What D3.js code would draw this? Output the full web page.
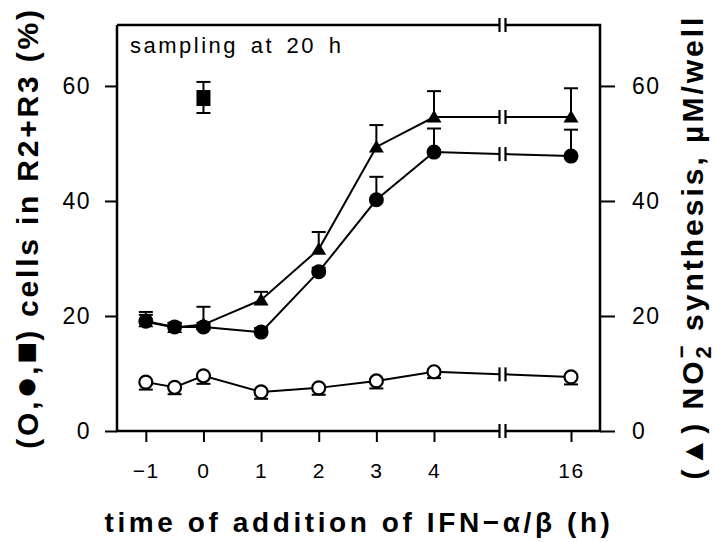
<!DOCTYPE html>
<html>
<head>
<meta charset="utf-8">
<script src="https://cdn.jsdelivr.net/npm/d3@7"></script>
<style>
  body { margin: 0; background: #fff; }
  text { font-family: "Liberation Sans", Arial, sans-serif; }
</style>
</head>
<body>
<script>
// values
var TIMES = [-1, -0.5, 0, 1, 2, 3, 4, 16];
var OPEN_CIRCLE = [8.5, 7.6, 9.6, 6.8, 7.5, 8.7, 10.3, 9.4];
var OPEN_CIRCLE_LOW = [7.2, 6.4, 8.2, 5.6, 6.3, 7.4, 9.2, 8.1];
var FILLED_CIRCLE = [19.1, 18.1, 18.1, 17.2, 27.7, 40.2, 48.5, 47.8];
var FILLED_CIRCLE_HIGH = [20.2, 18.8, 18.8, 17.9, 28.4, 44.2, 52.6, 52.4];
var TRIANGLE = [19.0, 18.0, 18.5, 22.8, 31.6, 49.4, 54.6, 54.6];
var TRIANGLE_HIGH = [20.7, 18.8, 21.6, 24.2, 34.6, 53.2, 59.1, 59.6];
var SQUARE = [{ t: 0, v: 57.9, lo: 55.3, hi: 60.7 }];
var X_TICKS = [-1, 0, 1, 2, 3, 4, 16];
var Y_TICKS = [0, 20, 40, 60];
var X_BREAK = 10;

var WIDTH = 715, HEIGHT = 542;
var LEFT = 117, RIGHT = 600, TOP = 25, BOTTOM = 431;
var STROKE = 2;

var svg = d3.select("body").append("svg").attr("width", WIDTH).attr("height", HEIGHT);

var x = d3.scaleLinear().domain([-1.5, 4, 16, 16.5]).range([LEFT, 434, 571, RIGHT]);
var y = d3.scaleLinear().domain([0, 70.6]).range([BOTTOM, TOP]);

// axes (ticks only, frame drawn separately so it can be broken)
var gl = svg.append("g").attr("transform", "translate(" + LEFT + ",0)")
  .call(d3.axisLeft(y).tickValues(Y_TICKS).tickSize(12).tickPadding(14));
var gr = svg.append("g").attr("transform", "translate(" + RIGHT + ",0)")
  .call(d3.axisRight(y).tickValues(Y_TICKS).tickSize(15).tickPadding(17));
var gb = svg.append("g").attr("transform", "translate(0," + BOTTOM + ")")
  .call(d3.axisBottom(x).tickValues(X_TICKS).tickSize(11).tickPadding(21)
    .tickFormat(function(d) { return d < 0 ? "\u2212" + Math.abs(d) : d; }));

[gl, gr, gb].forEach(function(g) {
  g.select(".domain").remove();
  g.selectAll("line").attr("stroke", "#000").attr("stroke-width", STROKE);
  g.selectAll("text").attr("font-size", 23).attr("letter-spacing", 1.5).attr("fill", "#000");
});
gb.selectAll("text").attr("font-size", 21);

// frame
var xb = x(X_BREAK);
var frame = svg.append("g").attr("stroke", "#000").attr("stroke-width", 2.5).attr("fill", "none");
frame.append("path").attr("d", "M" + LEFT + "," + TOP + "V" + BOTTOM + "H" + (xb - 3));
frame.append("path").attr("d", "M" + (xb + 3) + "," + BOTTOM + "H" + RIGHT + "V" + TOP + "H" + (xb + 3));
frame.append("path").attr("d", "M" + LEFT + "," + TOP + "H" + (xb - 3));

function breakMark(cx, cy) {
  var g = svg.append("g").attr("stroke", "#000").attr("stroke-width", 2.2);
  g.append("line").attr("x1", cx - 3).attr("x2", cx - 3).attr("y1", cy - 7).attr("y2", cy + 7);
  g.append("line").attr("x1", cx + 3).attr("x2", cx + 3).attr("y1", cy - 7).attr("y2", cy + 7);
}
breakMark(xb, TOP);
breakMark(xb, BOTTOM);

// series lines, broken between 4 and 16
function drawSeries(vals) {
  var pts = TIMES.map(function(t, i) { return [x(t), y(vals[i])]; });
  var n = pts.length;
  var a = pts[n - 2], b = pts[n - 1];
  var yb = a[1] + (b[1] - a[1]) * (xb - a[0]) / (b[0] - a[0]);
  var left = pts.slice(0, n - 1).concat([[xb - 3, yb]]);
  svg.append("path").attr("d", d3.line()(left))
    .attr("fill", "none").attr("stroke", "#000").attr("stroke-width", STROKE);
  svg.append("path").attr("d", d3.line()([[xb + 3, yb], b]))
    .attr("fill", "none").attr("stroke", "#000").attr("stroke-width", STROKE);
  breakMark(xb, yb);
}
drawSeries(OPEN_CIRCLE);
drawSeries(FILLED_CIRCLE);
drawSeries(TRIANGLE);

function errBar(t, from, to) {
  var g = svg.append("g").attr("stroke", "#000").attr("stroke-width", STROKE);
  g.append("line").attr("x1", x(t)).attr("x2", x(t)).attr("y1", y(from)).attr("y2", y(to));
  g.append("line").attr("x1", x(t) - 7).attr("x2", x(t) + 7).attr("y1", y(to)).attr("y2", y(to));
}

TIMES.forEach(function(t, i) {
  errBar(t, OPEN_CIRCLE[i], OPEN_CIRCLE_LOW[i]);
  errBar(t, FILLED_CIRCLE[i], FILLED_CIRCLE_HIGH[i]);
  errBar(t, TRIANGLE[i], TRIANGLE_HIGH[i]);
});

// markers
svg.selectAll(".tri").data(TIMES).enter().append("path")
  .attr("d", function(t, i) {
    var cx = x(t), cy = y(TRIANGLE[i]);
    return "M" + (cx - 7.5) + "," + (cy + 5.5) + "L" + (cx + 7.5) + "," + (cy + 5.5) + "L" + cx + "," + (cy - 7) + "Z";
  })
  .attr("fill", "#000");

svg.selectAll(".fc").data(TIMES).enter().append("circle")
  .attr("cx", function(t) { return x(t); })
  .attr("cy", function(t, i) { return y(FILLED_CIRCLE[i]); })
  .attr("r", 7.5).attr("fill", "#000");

svg.selectAll(".oc").data(TIMES).enter().append("circle")
  .attr("cx", function(t) { return x(t); })
  .attr("cy", function(t, i) { return y(OPEN_CIRCLE[i]); })
  .attr("r", 6.5).attr("fill", "#fff").attr("stroke", "#000").attr("stroke-width", 2.2);

SQUARE.forEach(function(d) {
  errBar(d.t, d.v, d.hi);
  errBar(d.t, d.v, d.lo);
  svg.append("rect").attr("x", x(d.t) - 7).attr("y", y(d.v) - 8)
    .attr("width", 14).attr("height", 16).attr("fill", "#000");
});

// texts
svg.append("text").attr("x", 130).attr("y", 53).attr("font-size", 22)
  .attr("letter-spacing", 2.5).attr("word-spacing", 4).text("sampling at 20 h");

var ll = svg.append("text").attr("transform", "translate(38,228) rotate(-90)")
  .attr("text-anchor", "middle").attr("font-size", 30).attr("font-weight", "bold")
  .attr("letter-spacing", 2.8);
ll.append("tspan").text("(O,");
ll.append("tspan").attr("font-size", 38).attr("letter-spacing", 1).text("\u25CF");
ll.append("tspan").text(",");
ll.append("tspan").attr("font-size", 36).attr("letter-spacing", 1).text("\u25A0");
ll.append("tspan").text(") cells in R2+R3 (%)");

var rl = svg.append("text").attr("transform", "translate(703,247) rotate(-90)")
  .attr("text-anchor", "middle").attr("font-size", 30).attr("font-weight", "bold")
  .attr("letter-spacing", 3);
rl.append("tspan").text("(\u25B2) NO");
rl.append("tspan").attr("dy", 8).attr("font-size", 22).text("2");
rl.append("tspan").attr("dy", -22).attr("dx", -15).attr("font-size", 22).text("\u2212");
rl.append("tspan").attr("dy", 14).text(" synthesis, \u00B5M/well");

svg.append("text").attr("x", 359).attr("y", 532).attr("text-anchor", "middle")
  .attr("font-size", 28).attr("font-weight", "bold").attr("letter-spacing", 3.6)
  .text("time of addition of IFN\u2212\u03B1/\u03B2 (h)");
</script>
</body>
</html>
